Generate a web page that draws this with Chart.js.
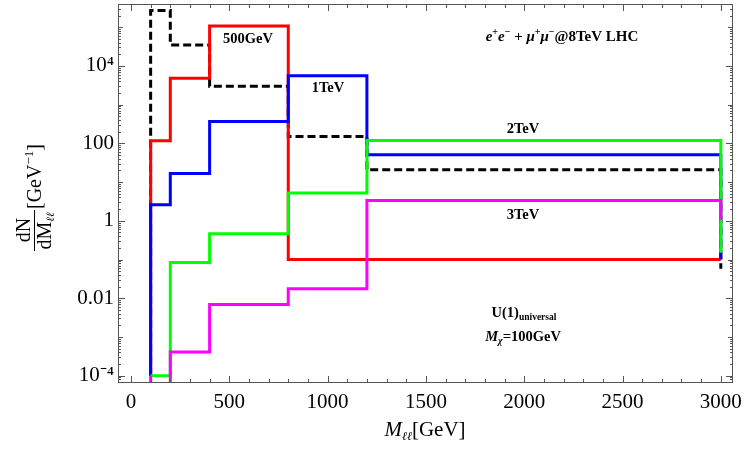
<!DOCTYPE html>
<html><head><meta charset="utf-8">
<script src="https://cdn.jsdelivr.net/npm/chart.js@4/dist/chart.umd.min.js"></script>
<style>html,body{margin:0;padding:0;background:#fff}</style>
</head><body>
<canvas id="c" width="745" height="450"></canvas>
<script>
// ---- data ----
const binEdges = [100, 200, 400, 800, 1200];          // left edges of the bins (GeV)
const lastEdge = 3000;
const background = [2.7e5, 3.5e4, 3.0e3, 150, 20.7];  // black dashed
const zp500  = [116, 4800, 1.07e5, 0.1, 0.1];         // red
const zp1000 = [2.6, 16.6, 366, 5600, 50.5];          // blue
const zp2000 = [1e-4, 0.084, 0.46, 5.2, 118];         // green
const zp3000 = [1e-5, 4.1e-4, 0.0069, 0.0176, 3.34];  // magenta
const endDrop = { background: 0.058, zp500: 0.1, zp1000: 0.1, zp2000: 0.15, zp3000: 1.06 };
const startLevel = 1e-4;
const xTickValues = [0, 500, 1000, 1500, 2000, 2500, 3000];
const xTickLabels = ['0', '500', '1000', '1500', '2000', '2500', '3000'];
const yTickValues = [1e-4, 0.01, 1, 100, 1e4];
const yTickLabels = ['10\u207B\u2074', '0.01', '1', '100', '10\u2074'];

function steps(vals, endVal) {
  const pts = [{x: binEdges[0], y: startLevel}];
  vals.forEach((v, i) => pts.push({x: binEdges[i], y: v}));
  pts.push({x: lastEdge, y: endVal});
  return pts;
}

const SERIF = '"Liberation Serif", "Times New Roman", serif';

function rich(ctx, x, y, parts, align) {
  let w = 0;
  parts.forEach(p => { ctx.font = p.f; p.w = ctx.measureText(p.t).width; w += p.w; });
  let cx = align === 'center' ? x - w / 2 : x;
  ctx.textBaseline = 'alphabetic'; ctx.textAlign = 'left';
  parts.forEach(p => { ctx.font = p.f; ctx.fillText(p.t, cx, y + (p.dy || 0)); cx += p.w; });
}

const decor = {
  id: 'decor',
  afterDatasetsDraw(chart) {
    const {ctx, chartArea: a, scales: {x, y}} = chart;
    ctx.save();
    ctx.strokeStyle = '#555'; ctx.lineWidth = 1;
    ctx.strokeRect(a.left + 0.5, a.top + 0.5, a.right - a.left - 1, a.bottom - a.top - 1);
    ctx.beginPath();
    for (let v = 0; v <= 3000; v += 100) {
      const px = Math.round(x.getPixelForValue(v)) + 0.5;
      const len = v % 500 === 0 ? 7 : 4;
      ctx.moveTo(px, a.bottom); ctx.lineTo(px, a.bottom - len);
      ctx.moveTo(px, a.top); ctx.lineTo(px, a.top + len);
    }
    for (let e = -6; e <= 6; e++) {
      for (let k = 1; k <= 9; k++) {
        const v = k * Math.pow(10, e);
        if (v < y.min || v > y.max) continue;
        const py = Math.round(y.getPixelForValue(v)) + 0.5;
        const len = (k === 1 && e % 2 === 0) ? 7 : (k === 1 ? 5 : 3);
        ctx.moveTo(a.left, py); ctx.lineTo(a.left + len, py);
        ctx.moveTo(a.right, py); ctx.lineTo(a.right - len, py);
      }
    }
    ctx.stroke();
    ctx.fillStyle = '#000';
    const B = s => 'bold ' + s + 'px ' + SERIF;
    const BI = s => 'italic bold ' + s + 'px ' + SERIF;
    rich(ctx, 248, 43, [{t: '500GeV', f: B(14.5)}], 'center');
    rich(ctx, 328, 92, [{t: '1TeV', f: B(14.5)}], 'center');
    rich(ctx, 523, 133, [{t: '2TeV', f: B(14.5)}], 'center');
    rich(ctx, 523, 219, [{t: '3TeV', f: B(14.5)}], 'center');
    rich(ctx, 562, 41, [
      {t: 'e', f: BI(15)}, {t: '+', f: B(10), dy: -6}, {t: 'e', f: BI(15)}, {t: '\u2212', f: B(10), dy: -6},
      {t: ' + ', f: B(15)},
      {t: '\u03BC', f: BI(15)}, {t: '+', f: B(10), dy: -6}, {t: '\u03BC', f: BI(15)}, {t: '\u2212', f: B(10), dy: -6},
      {t: '@8TeV LHC', f: B(15)}], 'center');
    rich(ctx, 524, 317, [{t: 'U(1)', f: B(14.5)}, {t: 'universal', f: B(9.5), dy: 3}], 'center');
    rich(ctx, 523, 341, [{t: 'M', f: BI(14.5)}, {t: '\u03C7', f: BI(10), dy: 3}, {t: '=100GeV', f: B(14.5)}], 'center');
    // x title
    rich(ctx, 425, 436, [{t: 'M', f: 'italic 21px ' + SERIF}, {t: '\u2113\u2113', f: 'italic 12px ' + SERIF, dy: 4},
      {t: '[GeV]', f: '21px ' + SERIF}], 'center');
    // y title (rotated)
    ctx.save();
    ctx.translate(34, 194);
    ctx.rotate(-Math.PI / 2);
    rich(ctx, -36, -4, [{t: 'dN', f: '20px ' + SERIF}], 'center');
    rich(ctx, -37, 17, [{t: 'dM', f: '20px ' + SERIF}, {t: '\u2113\u2113', f: 'italic 11px ' + SERIF, dy: 3}], 'center');
    ctx.strokeStyle = '#000'; ctx.lineWidth = 1;
    ctx.beginPath(); ctx.moveTo(-57, 0.5); ctx.lineTo(-16, 0.5); ctx.stroke();
    rich(ctx, -15, 7, [{t: '[GeV', f: '20px ' + SERIF}, {t: '\u22121', f: '13px ' + SERIF, dy: -8}, {t: ']', f: '20px ' + SERIF}], 'left');
    ctx.restore();
    ctx.restore();
  }
};

const ds = (label, data, color, dash) => ({
  label, data, borderColor: color, backgroundColor: color, borderWidth: 3,
  borderDash: dash || [], pointRadius: 0, stepped: 'before', fill: false,
  borderJoinStyle: 'miter', borderCapStyle: 'butt'
});

new Chart(document.getElementById('c'), {
  type: 'line',
  data: {
    datasets: [
      ds('3TeV', steps(zp3000, endDrop.zp3000), '#ff00ff'),
      ds('2TeV', steps(zp2000, endDrop.zp2000), '#00ff00'),
      ds('1TeV', steps(zp1000, endDrop.zp1000), '#0000ff'),
      ds('500GeV', steps(zp500, endDrop.zp500), '#ff0000'),
      ds('background', steps(background, endDrop.background), '#000000', [8, 4])
    ]
  },
  options: {
    responsive: false, animation: false, devicePixelRatio: 1,
    layout: {padding: {left: 0, top: 4, right: 12, bottom: 0}},
    plugins: {legend: {display: false}, tooltip: {enabled: false}},
    scales: {
      x: {
        type: 'linear', min: -66, max: 3062,
        grid: {display: false, drawTicks: false}, border: {display: false},
        afterBuildTicks: s => { s.ticks = xTickValues.map(v => ({value: v})); },
        afterFit: s => { s.height = 67; s.paddingLeft = 0; s.paddingRight = 0; },
        ticks: {autoSkip: false, maxRotation: 0, padding: 7, color: '#000',
          font: {family: SERIF, size: 21},
          callback: (v, i) => xTickLabels[i]}
      },
      y: {
        type: 'logarithmic', min: Math.pow(10, -4.19), max: Math.pow(10, 5.6),
        grid: {display: false, drawTicks: false}, border: {display: false},
        afterBuildTicks: s => { s.ticks = yTickValues.map(v => ({value: v})); },
        afterFit: s => { s.width = 118; s.paddingTop = 0; s.paddingBottom = 0; },
        ticks: {autoSkip: false, padding: 4, color: '#000',
          font: {family: SERIF, size: 21},
          callback: (v, i) => yTickLabels[i]}
      }
    }
  },
  plugins: [decor]
});
</script>
</body></html>
